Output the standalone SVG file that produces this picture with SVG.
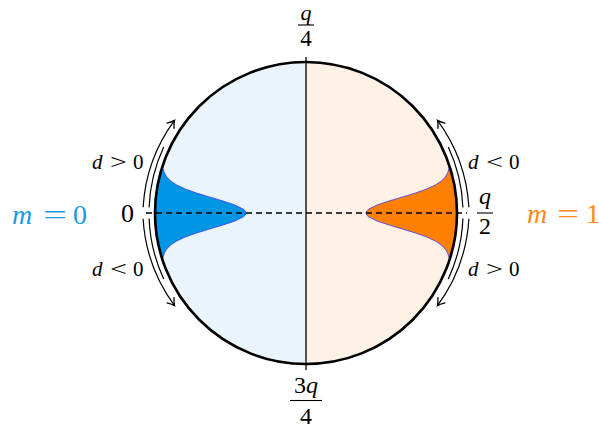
<svg xmlns="http://www.w3.org/2000/svg" width="599" height="432" viewBox="0 0 599 432">
<defs>
<marker id="arr" markerUnits="userSpaceOnUse" markerWidth="12" markerHeight="12" viewBox="-7 -5 8 10" refX="0" refY="0" orient="auto">
<path d="M-5.5,-3.6 Q-2,-0.8 0,0 Q-2,0.8 -5.5,3.6" fill="none" stroke="#000" stroke-width="1.1" stroke-linecap="round"/>
</marker>
</defs>
<style>
.t{font-family:"Liberation Serif","Times New Roman",serif;fill:#000}
.i{font-style:italic}
.arc{fill:none;stroke:#000;stroke-width:1.2}
.bar{stroke:#000;stroke-width:1.1}
</style>
<rect width="599" height="432" fill="#fff"/>
<g id="disk">
<path d="M306,62 A151,151 0 0 0 306,364 Z" fill="#e9f4fc"/>
<path d="M306,62 A151,151 0 0 1 306,364 Z" fill="#fdf0e5"/>
</g>
<g id="gauss-left">
<path d="M162.2,167 L163.1,169 L164.4,173 L166.7,177 L170.6,181 L176.7,185 L185.3,189 L196.5,193 L209.5,197 L223,201 L234.9,205 L243.1,209 L245.3,211 L246,213 L245.3,215 L243.1,217 L234.9,221 L223,225 L209.5,229 L196.5,233 L185.3,237 L176.7,241 L170.6,245 L166.7,249 L164.4,253 L163.1,257 L162.2,259 A151,151 0 0 1 162.2,167 Z" fill="#0096e3" stroke="none"/>
<path d="M162.6,167 L163.1,169 L164.4,173 L166.7,177 L170.6,181 L176.7,185 L185.3,189 L196.5,193 L209.5,197 L223,201 L234.9,205 L243.1,209 L245.3,211 L246,213 L245.3,215 L243.1,217 L234.9,221 L223,225 L209.5,229 L196.5,233 L185.3,237 L176.7,241 L170.6,245 L166.7,249 L164.4,253 L163.1,257 L162.6,259" fill="none" stroke="#3a3af0" stroke-width="0.8"/>
</g>
<g id="gauss-right">
<path d="M449.8,167 L448.9,169 L447.6,173 L445.3,177 L441.4,181 L435.3,185 L426.7,189 L415.5,193 L402.5,197 L389,201 L377.1,205 L368.9,209 L366.7,211 L366,213 L366.7,215 L368.9,217 L377.1,221 L389,225 L402.5,229 L415.5,233 L426.7,237 L435.3,241 L441.4,245 L445.3,249 L447.6,253 L448.9,257 L449.8,259 A151,151 0 0 0 449.8,167 Z" fill="#ff8000" stroke="none"/>
<path d="M449.4,167 L448.9,169 L447.6,173 L445.3,177 L441.4,181 L435.3,185 L426.7,189 L415.5,193 L402.5,197 L389,201 L377.1,205 L368.9,209 L366.7,211 L366,213 L366.7,215 L368.9,217 L377.1,221 L389,225 L402.5,229 L415.5,233 L426.7,237 L435.3,241 L441.4,245 L445.3,249 L447.6,253 L448.9,257 L449.4,259" fill="none" stroke="#3a3af0" stroke-width="0.8"/>
</g>
<g id="connectors">
<line x1="306" y1="57" x2="306" y2="370" stroke="#000" stroke-width="1.3"/>
<line x1="146" y1="213" x2="467" y2="213" stroke="#000" stroke-width="1.5" stroke-dasharray="6,4"/>
<path class="arc" d="M143.1,207.3 A163,163 0 0 1 174.5,120.4" marker-end="url(#arr)"/>
<path class="arc" d="M143.1,218.7 A163,163 0 0 0 174.5,305.6" marker-end="url(#arr)"/>
<path class="arc" d="M468.9,207.3 A163,163 0 0 0 437.5,120.4" marker-end="url(#arr)"/>
<path class="arc" d="M468.9,218.7 A163,163 0 0 1 437.5,305.6" marker-end="url(#arr)"/>
<path class="arc" d="M149.1,207.5 A157,157 0 0 1 163.7,147.1" stroke-width="1"/>
<path class="arc" d="M149.1,218.5 A157,157 0 0 0 163.7,278.9" stroke-width="1"/>
<path class="arc" d="M462.9,207.5 A157,157 0 0 0 448.3,147.1" stroke-width="1"/>
<path class="arc" d="M462.9,218.5 A157,157 0 0 1 448.3,278.9" stroke-width="1"/>
</g>
<g id="circle">
<circle cx="306" cy="213" r="151" fill="none" stroke="#000" stroke-width="2.6"/>
</g>
<g id="label-top">
<text class="t i" x="306" y="20" font-size="22" text-anchor="middle">q</text>
<line class="bar" x1="298" y1="25" x2="314" y2="25"/>
<text class="t" x="306" y="46" font-size="23" text-anchor="middle">4</text>
</g>
<g id="label-bottom">
<text class="t" x="306" y="393" font-size="24" text-anchor="middle">3<tspan class="i">q</tspan></text>
<line class="bar" x1="290" y1="400.5" x2="322" y2="400.5"/>
<text class="t" x="306" y="424" font-size="24" text-anchor="middle">4</text>
</g>
<g id="label-right">
<text class="t i" x="485" y="204" font-size="24" text-anchor="middle">q</text>
<line class="bar" x1="477" y1="213" x2="493" y2="213"/>
<text class="t" x="485" y="234" font-size="24" text-anchor="middle">2</text>
</g>
<g id="label-left">
<text class="t" x="121" y="222" font-size="26">0</text>
</g>
<g id="label-m0">
<text class="t i" x="12" y="224" font-size="28" style="fill:#1a9be0">m</text>
<text class="t" x="43" y="224" font-size="28" textLength="24" lengthAdjust="spacingAndGlyphs" style="fill:#1a9be0">=</text>
<text class="t" x="73" y="224" font-size="28" style="fill:#1a9be0">0</text>
</g>
<g id="label-m1">
<text class="t i" x="527" y="223" font-size="28" style="fill:#ff8a1a">m</text>
<text class="t" x="557" y="223" font-size="28" textLength="22" lengthAdjust="spacingAndGlyphs" style="fill:#ff8a1a">=</text>
<text class="t" x="586" y="223" font-size="28" style="fill:#ff8a1a">1</text>
</g>
<g id="label-d-left">
<text class="t i" x="92" y="169" font-size="21">d</text>
<text class="t" x="110" y="169" font-size="21" textLength="17" lengthAdjust="spacingAndGlyphs">&gt;</text>
<text class="t" x="133" y="169" font-size="21">0</text>
<text class="t i" x="92" y="276" font-size="21">d</text>
<text class="t" x="110" y="276" font-size="21" textLength="17" lengthAdjust="spacingAndGlyphs">&lt;</text>
<text class="t" x="133" y="276" font-size="21">0</text>
</g>
<g id="label-d-right">
<text class="t i" x="468" y="169" font-size="21">d</text>
<text class="t" x="486" y="169" font-size="21" textLength="17" lengthAdjust="spacingAndGlyphs">&lt;</text>
<text class="t" x="509" y="169" font-size="21">0</text>
<text class="t i" x="468" y="276" font-size="21">d</text>
<text class="t" x="486" y="276" font-size="21" textLength="17" lengthAdjust="spacingAndGlyphs">&gt;</text>
<text class="t" x="509" y="276" font-size="21">0</text>
</g>
</svg>
